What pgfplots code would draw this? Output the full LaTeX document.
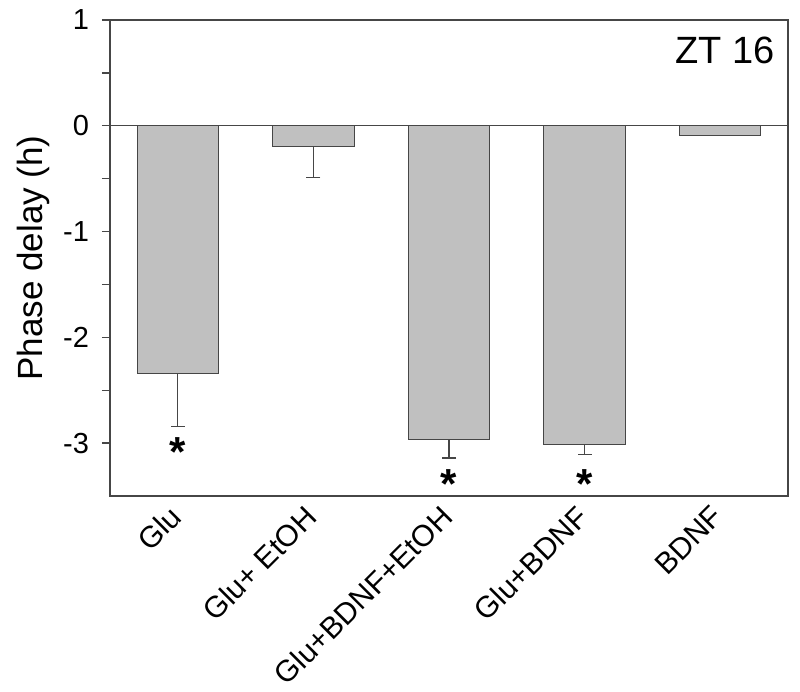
\documentclass[border=0pt]{standalone}
\usepackage{fontspec}
\setmainfont{Liberation Sans}
\usepackage{pgfplots}
\pgfplotsset{compat=1.18}
\usetikzlibrary{calc}

\definecolor{barfill}{RGB}{192,192,192}
\definecolor{edge}{RGB}{70,70,70}

\begin{document}
\begin{tikzpicture}
\begin{axis}[
  width=339pt, height=238pt, scale only axis,
  xmin=-0.5, xmax=4.5, ymin=-3.5, ymax=1,
  ybar, bar width=0.6, bar shift=0pt,
  xtick={0,1,2,3,4},
  xticklabels={Glu, Glu+ EtOH, Glu+BDNF+EtOH, Glu+BDNF, BDNF},
  x tick label style={xshift=-5pt, yshift=5pt, rotate=45, anchor=north east,
    font=\fontsize{15}{17}\selectfont},
  major x tick style={draw=none},
  ytick={-3,-2,-1,0,1},
  minor ytick={-2.5,-1.5,-0.5,0.5},
  y tick label style={font=\fontsize{14.5}{16}\selectfont, xshift=-3pt},
  ytick align=outside, ytick pos=left,
  y tick style={edge, line width=0.7pt},
  major tick length=4pt, minor tick length=4pt,
  ylabel={Phase delay (h)},
  ylabel style={font=\fontsize{17.5}{20}\selectfont},
  axis line style={edge, line width=0.9pt},
  clip=false,
  /pgf/number format/assume math mode=true,
]
\draw[edge, line width=0.6pt] (axis cs:-0.5,0) -- (axis cs:4.5,0);

\addplot[fill=barfill, draw=edge, line width=0.5pt,
  error bars/.cd, y dir=minus, y explicit,
  error bar style={edge, line width=0.6pt},
  error mark options={rotate=90, mark size=3.5pt, edge, line width=0.6pt}]
  coordinates {
    (0,-2.34) +- (0,0.50)
    (1,-0.20) +- (0,0.29)
    (2,-2.97) +- (0,0.17)
    (3,-3.01) +- (0,0.10)
    (4,-0.095) +- (0,0)
  };

\node[font=\fontsize{21}{22}\bfseries] at (axis cs:0,-3.08) {*};
\node[font=\fontsize{21}{22}\bfseries] at (axis cs:2,-3.39) {*};
\node[font=\fontsize{21}{22}\bfseries] at (axis cs:3,-3.39) {*};

\node[anchor=north east, inner sep=0pt, font=\fontsize{19}{22}\selectfont]
  at ($(rel axis cs:1,1)+(-6.5pt,-8.5pt)$) {ZT 16};
\end{axis}
\pgfresetboundingbox
\path[use as bounding box] ($(current axis.south west)+(-55pt,-97.5pt)$)
  rectangle ($(current axis.north east)+(6pt,10pt)$);
\end{tikzpicture}
\end{document}
